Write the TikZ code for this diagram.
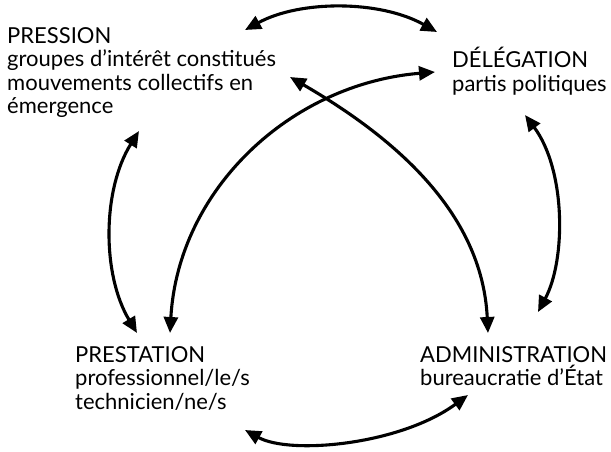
\documentclass[tikz,border=0pt]{standalone}
\usepackage{fontspec}
\setmainfont{Lato}
\usetikzlibrary{arrows.meta}

\begin{document}
\begin{tikzpicture}[x=1pt,y=-1pt,
  lbl/.style={anchor=north west,inner sep=0pt,align=left,font=\fontsize{22}{23.5}\selectfont},
  link/.style={{Triangle[length=16pt,width=14pt]}-{Triangle[length=16pt,width=14pt]},line width=3.1pt}]
\useasboundingbox (0,0) rectangle (611,451);
\node[lbl] (pression) at (7,25) {\rule{0pt}{18pt}PRESSION\\groupes d'intérêt constitués\\mouvements collectifs en\\émergence};
\node[lbl] (delegation) at (452,47) {\rule{0pt}{18pt}DÉLÉGATION\\partis politiques};
\node[lbl] (prestation) at (75,344) {\rule{0pt}{18pt}PRESTATION\\professionnel/le/s\\technicien/ne/s};
\node[lbl] (administration) at (420,344) {\rule{0pt}{18pt}ADMINISTRATION\\bureaucratie d'État};
% arrow tips
\coordinate (pr-a) at (245,30);
\coordinate (pr-b) at (290,77);
\coordinate (pr-c) at (139,131);
\coordinate (de-a) at (437,32);
\coordinate (de-b) at (435,72);
\coordinate (de-c) at (525,115);
\coordinate (ps-a) at (137,333);
\coordinate (ps-b) at (170,333);
\coordinate (ps-c) at (245,430);
\coordinate (ad-a) at (488,333);
\coordinate (ad-b) at (538,312);
\coordinate (ad-c) at (468,395);
\draw[link] (pr-a) .. controls (300,0) and (380,0) .. (de-a);
\draw[link] (pr-c) .. controls (102,190) and (102,275) .. (ps-a);
\draw[link] (ps-b) .. controls (178,190) and (290,84) .. (de-b);
\draw[link] (pr-b) .. controls (390,135) and (482,210) .. (ad-a);
\draw[link] (de-c) .. controls (566,170) and (566,260) .. (ad-b);
\draw[link] (ps-c) .. controls (290,455) and (400,445) .. (ad-c);
\end{tikzpicture}
\end{document}
